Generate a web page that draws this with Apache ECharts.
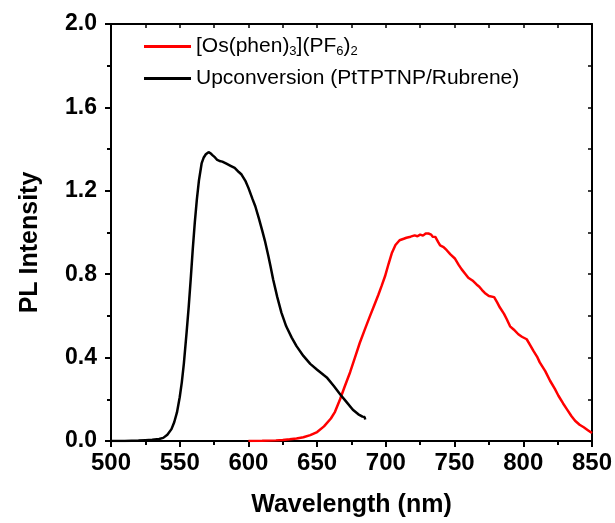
<!DOCTYPE html>
<html>
<head>
<meta charset="utf-8">
<script src="https://cdn.jsdelivr.net/npm/echarts@6/dist/echarts.min.js"></script>
<style>html,body{margin:0;padding:0;background:#fff;}#c{width:615px;height:523px;}</style>
</head>
<body>
<div id="c"></div>
<script>
var seriesNames = ['[Os(phen)3](PF6)2', 'Upconversion (PtTPTNP/Rubrene)'];
var xTicks = [500, 550, 600, 650, 700, 750, 800, 850];
var yTicks = [0.0, 0.4, 0.8, 1.2, 1.6, 2.0];

var upconvWavelength = [500,510,520,525,530,535,538,541,544,546,548,550,551.5,553,555,556.5,558,559.5,561,562.5,564,566,567.5,569,571,572.5,574,575.7,577,579,581,584,587,590,593,595,598,600,603,605,607.5,610,612,614.5,616,618,621,624,627.5,631.5,635,640,645,650,655,657,662,667,671,676,680,683,684.5,685];
var upconvIntensity = [0,0,0.002,0.004,0.006,0.01,0.015,0.03,0.057,0.09,0.137,0.21,0.28,0.37,0.52,0.64,0.775,0.92,1.05,1.16,1.25,1.333,1.36,1.375,1.385,1.38,1.37,1.36,1.35,1.343,1.34,1.33,1.32,1.31,1.29,1.278,1.245,1.214,1.16,1.126,1.07,1.01,0.96,0.887,0.84,0.775,0.69,0.616,0.55,0.496,0.455,0.408,0.37,0.342,0.315,0.305,0.265,0.222,0.19,0.15,0.128,0.117,0.115,0.103];

var osWavelength = [600,610,620,625,630,635,640,645,650,655,660,663,666.7,670,674,677.5,681,685,688.5,691.5,694.5,697,699.4,702,704.3,707,710,713,715,718,721,723,725,727,729,731,733,734,736,738,739.5,742,744.3,747,750.4,753,755.2,758,760,763,766,768,770,772,775,778.8,781,783,786,788,790.4,793,796.4,799,802.5,805,807.4,810,812,816,819.5,823,825.6,829,831.7,835,837.7,841,844,847,850];
var osIntensity = [0,0.001,0.003,0.005,0.008,0.012,0.018,0.028,0.043,0.07,0.108,0.14,0.2,0.26,0.33,0.40,0.47,0.54,0.60,0.65,0.70,0.745,0.79,0.85,0.90,0.94,0.963,0.97,0.975,0.98,0.986,0.982,0.99,0.985,0.995,0.995,0.99,0.98,0.979,0.955,0.938,0.93,0.915,0.895,0.874,0.845,0.823,0.80,0.783,0.77,0.751,0.74,0.724,0.71,0.695,0.69,0.665,0.64,0.61,0.584,0.55,0.535,0.512,0.5,0.488,0.46,0.432,0.405,0.377,0.335,0.289,0.25,0.217,0.18,0.153,0.12,0.097,0.078,0.066,0.052,0.038];

function zip(a, b) { return a.map(function (v, i) { return [v, b[i]]; }); }

var FONT = '"Liberation Sans", Arial, sans-serif';
var xMin = xTicks[0], xMax = xTicks[xTicks.length - 1], xInt = xTicks[1] - xTicks[0];
var yMin = yTicks[0], yMax = yTicks[yTicks.length - 1], yInt = yTicks[1] - yTicks[0];

var axisLine = { show: true, onZero: false, lineStyle: { color: '#000', width: 2 } };

var legendText = {
  fontFamily: FONT, fontSize: 21, color: '#000',
  rich: {
    n: { fontFamily: FONT, fontSize: 21, color: '#000' },
    s: { fontFamily: FONT, fontSize: 13, color: '#000', verticalAlign: 'bottom', padding: [9, 0, 0, 0] }
  }
};
function legendFmt(name) {
  if (name === seriesNames[0]) return '{n|[Os(phen)}{s|3}{n|](PF}{s|6}{n|)}{s|2}';
  return name;
}
function makeLegend(name, top) {
  return {
    orient: 'vertical', left: 144, top: top, padding: 0,
    icon: 'rect', itemWidth: 47, itemHeight: 3,
    data: [name], textStyle: legendText, formatter: legendFmt
  };
}

var chart = echarts.init(document.getElementById('c'), null, { renderer: 'canvas' });
chart.setOption({
  animation: false,
  backgroundColor: '#fff',
  grid: { left: 111, right: 23, top: 24, bottom: 81, containLabel: false },
  legend: [makeLegend(seriesNames[0], 36), makeLegend(seriesNames[1], 68)],
  xAxis: [{
    type: 'value', min: xMin, max: xMax, interval: xInt, position: 'bottom',
    name: 'Wavelength (nm)', nameLocation: 'middle', nameGap: 52,
    nameTextStyle: { fontFamily: FONT, fontWeight: 'bold', fontSize: 25, color: '#000' },
    axisLine: axisLine,
    axisTick: { show: true, inside: false, length: 6, lineStyle: { color: '#000', width: 2 } },
    minorTick: { show: true, splitNumber: 2, length: 4, lineStyle: { color: '#000', width: 2 } },
    axisLabel: { margin: 10, fontFamily: FONT, fontWeight: 'bold', fontSize: 24, color: '#000' },
    splitLine: { show: false }
  }, {
    type: 'value', min: xMin, max: xMax, interval: xInt, position: 'top',
    axisLine: axisLine,
    axisTick: { show: true, inside: true, length: 4, lineStyle: { color: '#000', width: 1.5 } },
    minorTick: { show: true, splitNumber: 2, length: 4, lineStyle: { color: '#000', width: 1.5 } },
    axisLabel: { show: false }, splitLine: { show: false }
  }],
  yAxis: [{
    type: 'value', min: yMin, max: yMax, interval: yInt, position: 'left',
    name: 'PL Intensity', nameLocation: 'middle', nameGap: 68,
    nameTextStyle: { fontFamily: FONT, fontWeight: 'bold', fontSize: 25, color: '#000', padding: [0, 20, 0, 0] },
    axisLine: axisLine,
    axisTick: { show: true, inside: false, length: 6, lineStyle: { color: '#000', width: 2 } },
    minorTick: { show: true, splitNumber: 2, length: 4, lineStyle: { color: '#000', width: 2 } },
    axisLabel: { margin: 14, fontFamily: FONT, fontWeight: 'bold', fontSize: 23, color: '#000',
      formatter: function (v) { return v.toFixed(1); } },
    splitLine: { show: false }
  }, {
    type: 'value', min: yMin, max: yMax, interval: yInt, position: 'right',
    axisLine: axisLine,
    axisTick: { show: true, inside: true, length: 4, lineStyle: { color: '#000', width: 1.5 } },
    minorTick: { show: true, splitNumber: 2, length: 4, lineStyle: { color: '#000', width: 1.5 } },
    axisLabel: { show: false }, splitLine: { show: false }
  }],
  series: [{
    name: seriesNames[0], type: 'line', xAxisIndex: 0, yAxisIndex: 0,
    data: zip(osWavelength, osIntensity), showSymbol: false, symbol: 'none',
    lineStyle: { color: '#ff0000', width: 2.5 }, itemStyle: { color: '#ff0000' }
  }, {
    name: seriesNames[1], type: 'line', xAxisIndex: 0, yAxisIndex: 0,
    data: zip(upconvWavelength, upconvIntensity), showSymbol: false, symbol: 'none',
    lineStyle: { color: '#000', width: 2.5 }, itemStyle: { color: '#000' }
  }]
});
</script>
</body>
</html>
